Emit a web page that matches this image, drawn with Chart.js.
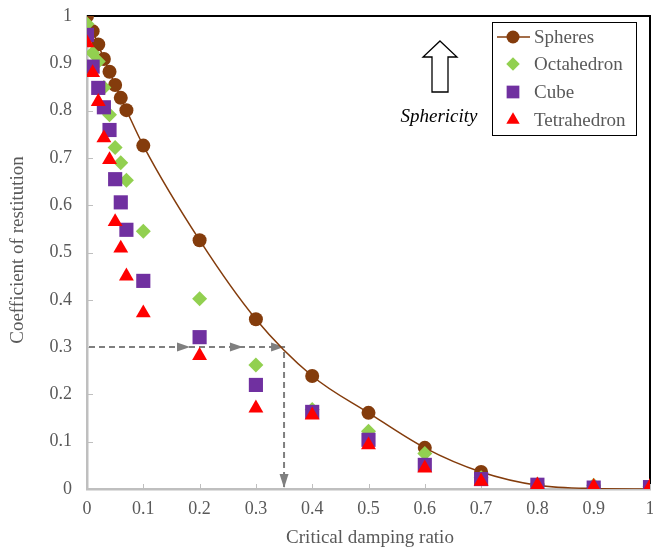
<!DOCTYPE html>
<html><head><meta charset="utf-8">
<script src="https://cdn.jsdelivr.net/npm/chart.js@4/dist/chart.umd.min.js"></script>
<style>html,body{margin:0;padding:0;background:#fff;}#wrap{width:653px;height:551px;}</style>
</head><body><div id="wrap"><canvas id="c" width="653" height="551"></canvas></div>
<script>
const xTicks = [0,0.1,0.2,0.3,0.4,0.5,0.6,0.7,0.8,0.9,1];
const yTicks = [0,0.1,0.2,0.3,0.4,0.5,0.6,0.7,0.8,0.9,1];
const damping = [0,0.01,0.02,0.03,0.04,0.05,0.06,0.07,0.1,0.2,0.3,0.4,0.5,0.6,0.7,0.8,0.9,1];
const spheres     = [1.0,0.968,0.940,0.909,0.882,0.854,0.827,0.801,0.726,0.526,0.359,0.239,0.161,0.087,0.036,0.008,0.001,0.0];
const octahedron  = [0.983,0.922,0.904,0.849,0.791,0.722,0.690,0.653,0.545,0.402,0.262,0.168,0.122,0.075,0.024,0.010,0.008,0.005];
const cube        = [0.960,0.893,0.848,0.807,0.759,0.655,0.606,0.548,0.440,0.321,0.220,0.163,0.104,0.051,0.021,0.009,0.003,0.004];
const tetrahedron = [0.943,0.880,0.819,0.742,0.696,0.565,0.509,0.450,0.372,0.282,0.171,0.156,0.093,0.044,0.016,0.008,0.005,0.005];
const guideX = 0.35, guideY = 0.3;
const guideArrowsX = [0.183, 0.277];

const pts = arr => arr.map((v,i)=>({x:damping[i], y:v}));
const SERIF = '"Liberation Serif","Times New Roman",serif';
const GREY = '#595959';

const series = [
  {label:'Spheres', data:spheres, color:'#843C0C', style:'circle', r:7, line:true},
  {label:'Octahedron', data:octahedron, color:'#92D050', style:'rectRot', r:7.5},
  {label:'Cube', data:cube, color:'#7030A0', style:'rect', r:10},
  {label:'Tetrahedron', data:tetrahedron, color:'#FF0000', style:'triangle', r:8.6}
];

function drawMarker(ctx, style, r, x, y, color){
  ctx.save();
  ctx.fillStyle = color;
  ctx.beginPath();
  if(style==='circle'){ ctx.arc(x,y,r,0,Math.PI*2); }
  else if(style==='rect'){ const h=r*Math.SQRT1_2; ctx.rect(x-h,y-h,2*h,2*h); }
  else if(style==='rectRot'){ ctx.moveTo(x,y-r); ctx.lineTo(x+r,y); ctx.lineTo(x,y+r); ctx.lineTo(x-r,y); ctx.closePath(); }
  else if(style==='triangle'){ ctx.moveTo(x,y-r); ctx.lineTo(x+r*0.866,y+r*0.5); ctx.lineTo(x-r*0.866,y+r*0.5); ctx.closePath(); }
  ctx.fill();
  ctx.restore();
}

const decor = {
  id:'decor',
  beforeDatasetsDraw(chart){
    const ctx = chart.ctx, xs = chart.scales.x, ys = chart.scales.y, a = chart.chartArea;
    ctx.save();
    ctx.strokeStyle = '#000'; ctx.lineWidth = 2;
    ctx.beginPath(); ctx.moveTo(a.left, a.top); ctx.lineTo(a.right, a.top); ctx.lineTo(a.right, a.bottom); ctx.stroke();
    ctx.strokeStyle = '#bfbfbf'; ctx.lineWidth = 1;
    xTicks.forEach(t=>{ const px = Math.round(xs.getPixelForValue(t))+0.5; ctx.beginPath(); ctx.moveTo(px,a.bottom); ctx.lineTo(px,a.bottom-5); ctx.stroke(); });
    yTicks.forEach(t=>{ const py = Math.round(ys.getPixelForValue(t))+0.5; ctx.beginPath(); ctx.moveTo(a.left,py); ctx.lineTo(a.left+6,py); ctx.stroke(); });
    const gx = xs.getPixelForValue(guideX), gy = ys.getPixelForValue(guideY);
    const x0 = xs.getPixelForValue(0), yb = ys.getPixelForValue(0);
    ctx.strokeStyle = '#7f7f7f'; ctx.fillStyle = '#7f7f7f'; ctx.lineWidth = 2;
    ctx.setLineDash([6,4]);
    ctx.beginPath(); ctx.moveTo(x0+2, gy); ctx.lineTo(gx, gy); ctx.lineTo(gx, yb-2); ctx.stroke();
    ctx.setLineDash([]);
    const headR = (px)=>{ ctx.beginPath(); ctx.moveTo(px,gy); ctx.lineTo(px-13,gy-4.5); ctx.lineTo(px-13,gy+4.5); ctx.closePath(); ctx.fill(); };
    guideArrowsX.forEach(v=>headR(xs.getPixelForValue(v)));
    headR(gx);
    ctx.beginPath(); ctx.moveTo(gx,yb-1); ctx.lineTo(gx-4.5,yb-15); ctx.lineTo(gx+4.5,yb-15); ctx.closePath(); ctx.fill();
    ctx.restore();
  },
  afterDraw(chart){
    const ctx = chart.ctx;
    ctx.save();
    ctx.fillStyle = GREY; ctx.font = '19px '+SERIF; ctx.textAlign='center'; ctx.textBaseline='middle';
    ctx.fillText('Critical damping ratio', 370, 538);
    ctx.save(); ctx.translate(18, 250); ctx.rotate(-Math.PI/2); ctx.fillText('Coefficient of restitution', 0, 0); ctx.restore();
    ctx.strokeStyle = '#000'; ctx.lineWidth = 1.3; ctx.fillStyle='#fff';
    ctx.beginPath();
    ctx.moveTo(440,41); ctx.lineTo(457,57); ctx.lineTo(448,57); ctx.lineTo(448,92); ctx.lineTo(432,92); ctx.lineTo(432,57); ctx.lineTo(423,57); ctx.closePath();
    ctx.fill(); ctx.stroke();
    ctx.fillStyle = '#000'; ctx.font = 'italic 19px '+SERIF; ctx.textAlign='center';
    ctx.fillText('Sphericity', 439, 117);
    ctx.fillStyle = '#fff'; ctx.strokeStyle = '#000'; ctx.lineWidth = 1;
    ctx.fillRect(492.5, 22.5, 144, 113); ctx.strokeRect(492.5, 22.5, 144, 113);
    const rows = [37, 64, 92, 120];
    series.forEach((s,i)=>{
      const y = rows[i];
      if(s.line){ ctx.strokeStyle = s.color; ctx.lineWidth = 1.5; ctx.beginPath(); ctx.moveTo(497,y); ctx.lineTo(530,y); ctx.stroke(); }
      drawMarker(ctx, s.style, s.line ? 6.5 : s.r*0.9, 513, y, s.color);
      ctx.fillStyle = GREY; ctx.font = '19px '+SERIF; ctx.textAlign='left'; ctx.textBaseline='middle';
      ctx.fillText(s.label, 534, y+1);
    });
    ctx.restore();
  }
};

const datasets = series.map((s,i)=>({
  label: s.label,
  data: pts(s.data),
  showLine: !!s.line,
  borderColor: s.color,
  backgroundColor: s.color,
  borderWidth: s.line ? 1.5 : 0,
  pointStyle: s.style,
  pointRadius: s.r,
  pointBorderWidth: 0,
  pointBackgroundColor: s.color,
  pointBorderColor: s.color,
  cubicInterpolationMode: 'monotone',
  order: 3 - i
}));

new Chart(document.getElementById('c'), {
  type: 'scatter',
  data: { datasets },
  options: {
    responsive: false,
    animation: false,
    devicePixelRatio: 1,
    layout: { autoPadding: false, padding: { top: 16, right: 3, left: 0, bottom: 0 } },
    plugins: { legend: { display: false }, tooltip: { enabled: false } },
    scales: {
      x: {
        type: 'linear', min: 0, max: 1,
        afterBuildTicks(sc){ sc.ticks = xTicks.map(v=>({value:v})); },
        afterFit(sc){ sc.height = 62; sc.paddingLeft = 0; sc.paddingRight = 0; },
        grid: { display: true, drawOnChartArea: false, drawTicks: false },
        border: { color: '#bfbfbf', width: 2.5 },
        ticks: { padding: 9, color: GREY, font: { family: SERIF, size: 18 }, maxRotation: 0, autoSkip: false,
                 callback: v => String(Math.round(v*10)/10) }
      },
      y: {
        type: 'linear', min: 0, max: 1,
        afterBuildTicks(sc){ sc.ticks = yTicks.map(v=>({value:v})); },
        afterFit(sc){ sc.width = 87; sc.paddingTop = 0; sc.paddingBottom = 0; },
        grid: { display: true, drawOnChartArea: false, drawTicks: false },
        border: { color: '#bfbfbf', width: 2.5 },
        ticks: { padding: 15, color: GREY, font: { family: SERIF, size: 18 }, autoSkip: false,
                 callback: v => String(Math.round(v*10)/10) }
      }
    }
  },
  plugins: [decor]
});
</script></body></html>
